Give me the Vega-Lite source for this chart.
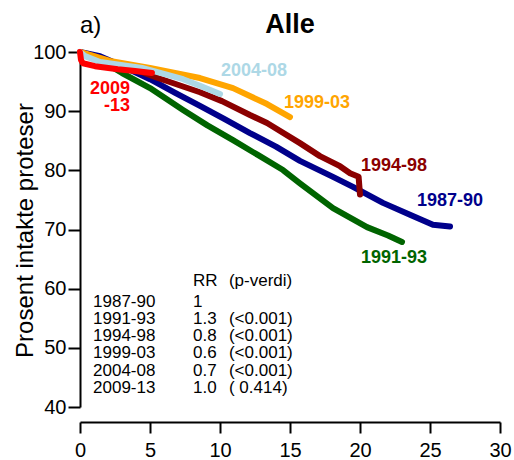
{
  "$schema": "https://vega.github.io/schema/vega-lite/v6.json",
  "width": 420,
  "height": 355,
  "autosize": {"type": "none"},
  "padding": {"left": 80, "top": 52, "right": 14, "bottom": 53},
  "background": "white",
  "config": {
    "view": {"stroke": null},
    "font": "Liberation Sans",
    "axis": {
      "grid": false,
      "domainColor": "black",
      "domainWidth": 2,
      "tickColor": "black",
      "tickWidth": 2,
      "labelColor": "black",
      "labelFont": "Liberation Sans",
      "labelFontSize": 20,
      "titleColor": "black",
      "titleFont": "Liberation Sans",
      "titleFontWeight": "normal"
    }
  },
  "datasets": {
    "curves": [
      {"period": "1987-90", "t": 0, "s": 100},
      {"period": "1987-90", "t": 1.43, "s": 99.3},
      {"period": "1987-90", "t": 2.86, "s": 97.8},
      {"period": "1987-90", "t": 5.0, "s": 95.4},
      {"period": "1987-90", "t": 6.8, "s": 93.1},
      {"period": "1987-90", "t": 8.57, "s": 90.9},
      {"period": "1987-90", "t": 10.3, "s": 88.7},
      {"period": "1987-90", "t": 12.14, "s": 86.3},
      {"period": "1987-90", "t": 14.0, "s": 84.0},
      {"period": "1987-90", "t": 15.71, "s": 81.6},
      {"period": "1987-90", "t": 18.07, "s": 78.9},
      {"period": "1987-90", "t": 19.5, "s": 77.2},
      {"period": "1987-90", "t": 21.64, "s": 74.5},
      {"period": "1987-90", "t": 23.57, "s": 72.5},
      {"period": "1987-90", "t": 25.21, "s": 70.8},
      {"period": "1987-90", "t": 26.43, "s": 70.5},
      {"period": "1991-93", "t": 0, "s": 100},
      {"period": "1991-93", "t": 1.43, "s": 98.65},
      {"period": "1991-93", "t": 3.0, "s": 96.45},
      {"period": "1991-93", "t": 5.0, "s": 93.9},
      {"period": "1991-93", "t": 7.36, "s": 90.2},
      {"period": "1991-93", "t": 9.1, "s": 87.6},
      {"period": "1991-93", "t": 10.93, "s": 85.1},
      {"period": "1991-93", "t": 12.7, "s": 82.6},
      {"period": "1991-93", "t": 14.5, "s": 80.05},
      {"period": "1991-93", "t": 15.71, "s": 77.8},
      {"period": "1991-93", "t": 18.07, "s": 73.6},
      {"period": "1991-93", "t": 20.5, "s": 70.4},
      {"period": "1991-93", "t": 22.0, "s": 69.0},
      {"period": "1991-93", "t": 23.0, "s": 67.9},
      {"period": "1994-98", "t": 0, "s": 100},
      {"period": "1994-98", "t": 2.86, "s": 97.97},
      {"period": "1994-98", "t": 5.57, "s": 95.6},
      {"period": "1994-98", "t": 8.57, "s": 93.2},
      {"period": "1994-98", "t": 10.14, "s": 91.7},
      {"period": "1994-98", "t": 12.14, "s": 89.35},
      {"period": "1994-98", "t": 13.36, "s": 88.0},
      {"period": "1994-98", "t": 15.71, "s": 84.6},
      {"period": "1994-98", "t": 17.14, "s": 82.4},
      {"period": "1994-98", "t": 18.57, "s": 80.7},
      {"period": "1994-98", "t": 19.29, "s": 79.5},
      {"period": "1994-98", "t": 19.9, "s": 78.9},
      {"period": "1994-98", "t": 20.0, "s": 75.9},
      {"period": "1999-03", "t": 0, "s": 100},
      {"period": "1999-03", "t": 2.14, "s": 98.5},
      {"period": "1999-03", "t": 5.0, "s": 97.3},
      {"period": "1999-03", "t": 8.57, "s": 95.6},
      {"period": "1999-03", "t": 10.93, "s": 93.9},
      {"period": "1999-03", "t": 13.36, "s": 91.2},
      {"period": "1999-03", "t": 15.0, "s": 89.0},
      {"period": "2004-08", "t": 0, "s": 100},
      {"period": "2004-08", "t": 0.36, "s": 99.3},
      {"period": "2004-08", "t": 1.43, "s": 98.3},
      {"period": "2004-08", "t": 4.43, "s": 97.3},
      {"period": "2004-08", "t": 7.36, "s": 95.4},
      {"period": "2004-08", "t": 8.57, "s": 94.3},
      {"period": "2004-08", "t": 10.0, "s": 92.9},
      {"period": "2009-13", "t": 0, "s": 100},
      {"period": "2009-13", "t": 0.07, "s": 98.65},
      {"period": "2009-13", "t": 0.21, "s": 98.1},
      {"period": "2009-13", "t": 1.07, "s": 97.6},
      {"period": "2009-13", "t": 2.7, "s": 97.1},
      {"period": "2009-13", "t": 3.93, "s": 96.8},
      {"period": "2009-13", "t": 5.14, "s": 96.45}
    ],
    "labels": [
      {"period": "2004-08", "t": 14.79, "s": 96.79, "label": "2004-08"},
      {"period": "1999-03", "t": 19.29, "s": 91.3, "label": "1999-03"},
      {"period": "1994-98", "t": 24.79, "s": 80.65, "label": "1994-98"},
      {"period": "1987-90", "t": 28.79, "s": 74.8, "label": "1987-90"},
      {"period": "1991-93", "t": 24.79, "s": 65.1, "label": "1991-93"},
      {"period": "2009-13", "t": 3.57, "s": 93.83, "label": "2009"},
      {"period": "2009-13", "t": 3.57, "s": 90.87, "label": "-13"}
    ],
    "table": [
      {"t": 8.07, "s": 61.3, "label": "RR"},
      {"t": 10.64, "s": 61.3, "label": "(p-verdi)"},
      {"t": 0.93, "s": 57.75, "label": "1987-90"},
      {"t": 8.07, "s": 57.75, "label": "1"},
      {"t": 0.93, "s": 54.88, "label": "1991-93"},
      {"t": 8.07, "s": 54.88, "label": "1.3"},
      {"t": 10.64, "s": 54.88, "label": "(<0.001)"},
      {"t": 0.93, "s": 52.0, "label": "1994-98"},
      {"t": 8.07, "s": 52.0, "label": "0.8"},
      {"t": 10.64, "s": 52.0, "label": "(<0.001)"},
      {"t": 0.93, "s": 49.13, "label": "1999-03"},
      {"t": 8.07, "s": 49.13, "label": "0.6"},
      {"t": 10.64, "s": 49.13, "label": "(<0.001)"},
      {"t": 0.93, "s": 46.09, "label": "2004-08"},
      {"t": 8.07, "s": 46.09, "label": "0.7"},
      {"t": 10.64, "s": 46.09, "label": "(<0.001)"},
      {"t": 0.93, "s": 43.21, "label": "2009-13"},
      {"t": 8.07, "s": 43.21, "label": "1.0"},
      {"t": 10.64, "s": 43.21, "label": "( 0.414)"}
    ],
    "heading": [
      {"t": 0, "s": 103.2, "label": "a)", "kind": "panel"},
      {"t": 15, "s": 103.2, "label": "Alle", "kind": "title"}
    ]
  },
  "layer": [
    {
      "data": {"name": "curves"},
      "mark": {"type": "line", "strokeWidth": 6, "strokeCap": "round", "strokeJoin": "round", "clip": false},
      "encoding": {
        "x": {
          "field": "t", "type": "quantitative",
          "scale": {"domain": [0, 30], "nice": false, "zero": false},
          "axis": {"values": [0, 5, 10, 15, 20, 25, 30], "offset": 15, "tickSize": 11, "labelPadding": 7, "title": null, "labelFlush": false}
        },
        "y": {
          "field": "s", "type": "quantitative",
          "scale": {"domain": [40, 100], "nice": false, "zero": false},
          "axis": {
            "values": [40, 50, 60, 70, 80, 90, 100], "tickSize": 12, "labelPadding": 2, "labelFlush": false,
            "title": "Prosent intakte proteser", "titleFontSize": 24, "titleAngle": -90,
            "titleBaseline": "alphabetic", "titleAlign": "center", "titleX": -48, "titleY": 178
          }
        },
        "color": {
          "field": "period", "type": "nominal",
          "scale": {
            "domain": ["1987-90", "1991-93", "1994-98", "1999-03", "2004-08", "2009-13"],
            "range": ["#00008B", "#006400", "#8B0000", "#FFA500", "#ADD8E6", "#FF0000"]
          },
          "legend": null
        }
      }
    },
    {
      "data": {"name": "labels"},
      "mark": {"type": "text", "fontSize": 18, "fontWeight": "bold", "align": "right", "baseline": "middle", "font": "Liberation Sans", "clip": false},
      "encoding": {
        "x": {"field": "t", "type": "quantitative"},
        "y": {"field": "s", "type": "quantitative"},
        "text": {"field": "label"},
        "color": {"field": "period", "type": "nominal", "legend": null}
      }
    },
    {
      "data": {"name": "table"},
      "mark": {"type": "text", "fontSize": 17, "align": "left", "baseline": "middle", "font": "Liberation Sans", "color": "black"},
      "encoding": {
        "x": {"field": "t", "type": "quantitative"},
        "y": {"field": "s", "type": "quantitative"},
        "text": {"field": "label"}
      }
    },
    {
      "data": {"name": "heading"},
      "transform": [{"filter": "datum.kind === 'panel'"}],
      "mark": {"type": "text", "fontSize": 24, "align": "left", "baseline": "alphabetic", "font": "Liberation Sans", "color": "black", "clip": false},
      "encoding": {
        "x": {"field": "t", "type": "quantitative"},
        "y": {"field": "s", "type": "quantitative"},
        "text": {"field": "label"}
      }
    },
    {
      "data": {"name": "heading"},
      "transform": [{"filter": "datum.kind === 'title'"}],
      "mark": {"type": "text", "fontSize": 27, "fontWeight": "bold", "align": "center", "baseline": "alphabetic", "font": "Liberation Sans", "color": "black", "clip": false},
      "encoding": {
        "x": {"field": "t", "type": "quantitative"},
        "y": {"field": "s", "type": "quantitative"},
        "text": {"field": "label"}
      }
    }
  ]
}
